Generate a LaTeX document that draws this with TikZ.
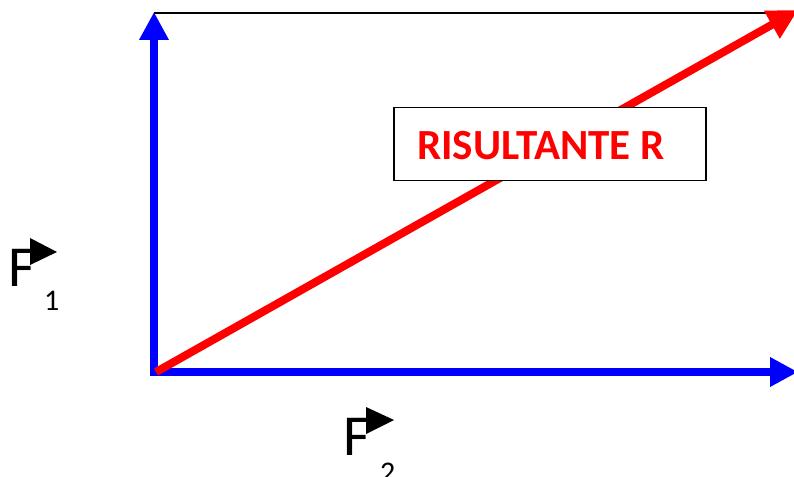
\documentclass[tikz,border=0pt]{standalone}
\usepackage{fontspec}
\setmainfont{Carlito}
\usetikzlibrary{arrows.meta}
\begin{document}
\begin{tikzpicture}[x=1bp,y=-1bp,
  force/.style={draw=blue,line width=8bp,-{Triangle[width=28bp,length=28bp]}},
  result/.style={draw=red,line width=8bp,-{Triangle[width=30bp,length=30bp]}},
  labelbox/.style={draw=black,line width=1.8bp,fill=white,minimum width=312bp,minimum height=73bp,inner sep=0pt},
  labeltext/.style={inner sep=0pt,font=\fontsize{43bp}{43bp}\selectfont\bfseries,text=red},
  flag/.style={fill=black},
  bigF/.style={inner sep=0pt,font=\fontsize{58bp}{58bp}\selectfont},
  sub/.style={inner sep=0pt,font=\fontsize{30bp}{30bp}\selectfont}]
\useasboundingbox (0,0) rectangle (794,477);
\coordinate (O) at (154,372);
\coordinate (Ttop) at (154,12);
\coordinate (Tright) at (798,372);
\coordinate (Rtip) at (798,10);
\coordinate (Rstart) at (156,372);
\coordinate (TL) at (154,13);
\coordinate (TR) at (794,13);
\draw[line width=2bp] (TL) -- (TR);
\draw[force] (O) -- (Ttop);
\draw[force] ([xshift=-4bp]O) -- (Tright);
\draw[result] (Rstart) -- (Rtip);
\node[labelbox] (box) at (550,144) {};
\node[labeltext,anchor=base] (rtext) at (541,160) {RISULTANTE R};
% F1
\node[bigF,anchor=base west] (f1) at (8,287) {F};
\fill[flag] (30,238) -- (57,252) -- (30,265) -- cycle;
\node[sub,anchor=base west] (s1) at (44,311) {1};
% F2
\node[bigF,anchor=base west] (f2) at (343,455) {F};
\fill[flag] (366,407) -- (394,420) -- (366,434) -- cycle;
\node[sub,anchor=base west] (s2) at (380,482) {2};
\end{tikzpicture}
\end{document}
